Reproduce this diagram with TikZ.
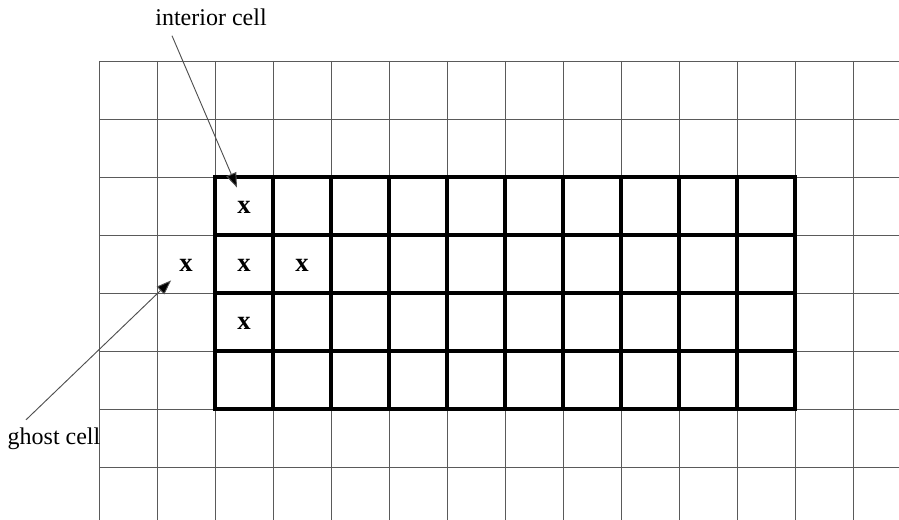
\documentclass[tikz,border=0pt]{standalone}
\usepackage{fontspec}
\setmainfont{Liberation Serif}
\usepackage{tikz}
\usetikzlibrary{arrows.meta, positioning, calc}
\definecolor{gridGray}{RGB}{90, 90, 90}
\definecolor{arrowGray}{RGB}{80, 80, 80}

\begin{document}
\begin{tikzpicture}[x=0.75pt, y=-0.75pt,
    thin grid/.style={draw=gridGray, line width=0.6pt},
    thick grid/.style={draw=black, line width=2.3pt, line cap=rect},
    label text/.style={font=\fontsize{18}{22}\selectfont, inner sep=0pt},
    mark text/.style={font=\fontsize{20}{24}\selectfont\bfseries, inner sep=0pt},
    pointer/.style={draw=arrowGray, line width=0.7pt, -{Triangle[length=11pt, width=8pt, fill=black]}}]
      \useasboundingbox (0,0) rectangle (899,520);

      % Background grid
      \foreach \i in {0,...,13}
        \draw[thin grid] (99+58*\i,61) -- (99+58*\i,520);
      \foreach \j in {0,...,7}
        \draw[thin grid] (99,61+58*\j) -- (899,61+58*\j);

      % Interior block
      \foreach \i in {0,...,10}
        \draw[thick grid] (215+58*\i,177) -- (215+58*\i,409);
      \foreach \j in {0,...,4}
        \draw[thick grid] (215,177+58*\j) -- (795,177+58*\j);

      % Marked cells
      \node[mark text] (xtop) at (244,207) {x};
      \node[mark text] (xghost) at (186,265) {x};
      \node[mark text] (xmid) at (244,265) {x};
      \node[mark text] (xright) at (302,265) {x};
      \node[mark text] (xlow) at (244,323) {x};

      % Labels
      \node[label text] (intlbl) at (211,17) {interior cell};
      \node[label text] (ghostlbl) at (54,439) {ghost cell};

      % Arrows
      \coordinate (intfrom) at ($(intlbl.south)+(-39,10)$);
      \coordinate (inttip) at ($(xtop.north)+(-7,-13)$);
      \coordinate (ghostfrom) at ($(ghostlbl.north)+(-28,-8)$);
      \coordinate (ghosttip) at ($(xghost.south west)+(-8,9)$);
      \draw[pointer] (intfrom) -- (inttip);
      \draw[pointer] (ghostfrom) -- (ghosttip);
    \end{tikzpicture}
\end{document}
